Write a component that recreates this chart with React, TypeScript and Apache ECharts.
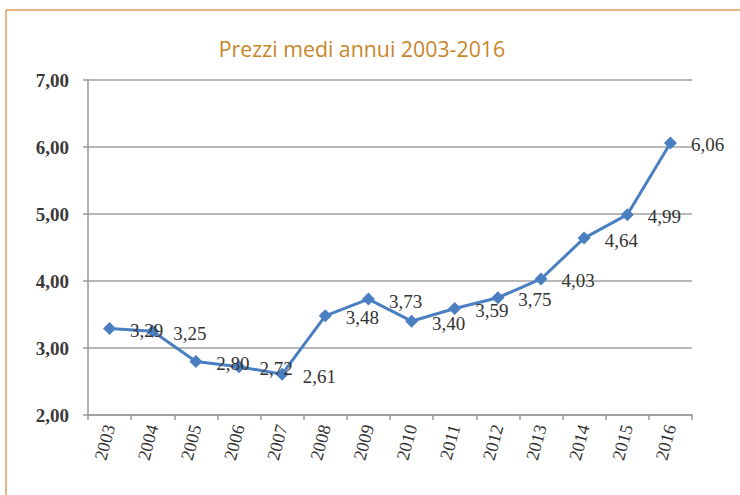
import React, { useEffect, useRef } from "react";
import * as echarts from "echarts";

const years = ["2003","2004","2005","2006","2007","2008","2009","2010","2011","2012","2013","2014","2015","2016"];
const prices = [3.29, 3.25, 2.80, 2.72, 2.61, 3.48, 3.73, 3.40, 3.59, 3.75, 4.03, 4.64, 4.99, 6.06];
const titleText = "Prezzi medi annui 2003-2016";

const fmt = (v: number) => v.toFixed(2).replace(".", ",");

export default function App() {
  const ref = useRef<HTMLDivElement>(null);
  useEffect(() => {
    if (!ref.current) return;
    const chart = echarts.init(ref.current, null, { renderer: "svg" });
    chart.setOption({
      animation: false,
      backgroundColor: "#ffffff",
      graphic: [
        { type: "line", shape: { x1: 6, y1: 10, x2: 740, y2: 10 }, style: { stroke: "#dd9c5a", lineWidth: 1.5 } },
        { type: "line", shape: { x1: 6, y1: 10, x2: 6, y2: 495 }, style: { stroke: "#dd9c5a", lineWidth: 1.5 } },
        {
          type: "text",
          x: 362,
          y: 48,
          scaleX: 0.97,
          style: {
            text: titleText,
            fill: "#c8862b",
            font: "22px 'Open Sans'",
            align: "center",
            verticalAlign: "middle",
          },
        },
      ],
      grid: { left: 88, right: 48, top: 80, bottom: 80 },
      xAxis: {
        type: "category",
        data: years,
        boundaryGap: true,
        axisLine: { lineStyle: { color: "#999999", width: 1.5 } },
        axisTick: { show: true, length: 5, lineStyle: { color: "#999999", width: 1.5 } },
        axisLabel: {
          rotate: 75,
          margin: 10,
          fontFamily: "Liberation Serif",
          fontSize: 18,
          color: "#333333",
        },
      },
      yAxis: {
        type: "value",
        min: 2,
        max: 7,
        interval: 1,
        axisLine: { show: true, lineStyle: { color: "#999999", width: 1.5 } },
        axisTick: { show: true, length: 5, lineStyle: { color: "#999999", width: 1.5 } },
        splitLine: { lineStyle: { color: "#a0a0a0", width: 1.5 } },
        axisLabel: {
          formatter: (v: number) => fmt(v),
          fontFamily: "Liberation Serif",
          fontWeight: "bold",
          fontSize: 19,
          color: "#3a3a3a",
          margin: 19,
        },
      },
      series: [
        {
          type: "line",
          data: prices,
          symbol: "diamond",
          symbolSize: 13,
          lineStyle: { color: "#4a7fc1", width: 3 },
          itemStyle: { color: "#4a7fc1" },
          label: {
            show: true,
            position: "right",
            distance: 14,
            offset: [0, 2],
            formatter: (p: any) => fmt(p.value),
            fontFamily: "Liberation Serif",
            fontSize: 19,
            color: "#333333",
          },
        },
      ],
    });
    return () => chart.dispose();
  }, []);
  return <div ref={ref} style={{ width: 740, height: 495, position: "absolute", left: 0, top: 0 }} />;
}
